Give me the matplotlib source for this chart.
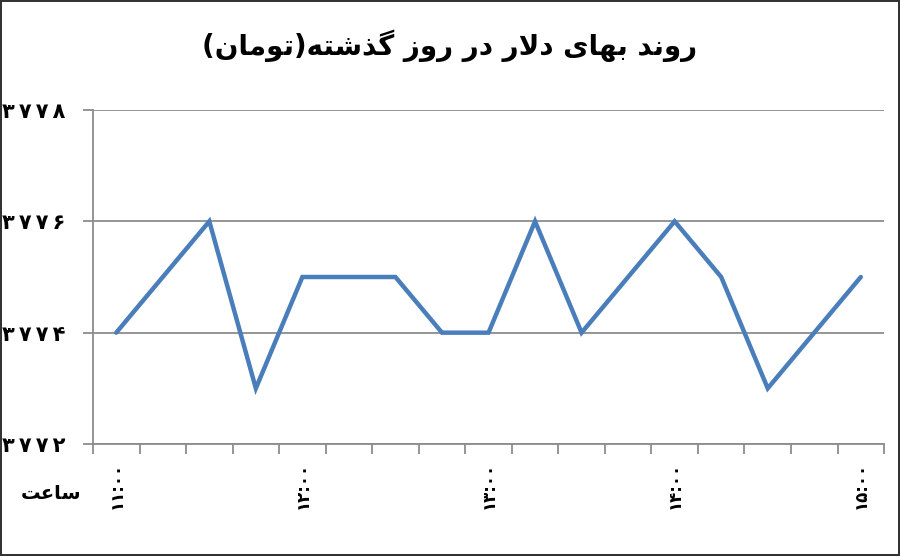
import matplotlib
matplotlib.use('Agg')
from matplotlib import pyplot as plt
from matplotlib.ticker import FixedLocator

# values (toman), one point every 15 minutes from 11:00 to 15:00
PRICES = [3774, 3775, 3776, 3773, 3775, 3775, 3775, 3774, 3774,
          3776, 3774, 3775, 3776, 3775, 3773, 3774, 3775]
HOUR_POS = [0, 4, 8, 12, 16]
HOUR_LABELS = ['11:00', '12:00', '13:00', '14:00', '15:00']
Y_TICKS = [3772, 3774, 3776, 3778]
TITLE = 'روند بهای دلار در روز گذشته(تومان)'
X_NAME = 'ساعت'

LINE_COLOR = '#4a7ebb'
GRID_COLOR = '#8c8c8c'

# (isolated, final, initial, medial); None for initial/medial = joins on the right only
FORMS = {
    'ا': ('\uFE8D', '\uFE8E', None, None),
    'ب': ('\uFE8F', '\uFE90', '\uFE91', '\uFE92'),
    'ت': ('\uFE95', '\uFE96', '\uFE97', '\uFE98'),
    'د': ('\uFEA9', '\uFEAA', None, None),
    'ذ': ('\uFEAB', '\uFEAC', None, None),
    'ر': ('\uFEAD', '\uFEAE', None, None),
    'ز': ('\uFEAF', '\uFEB0', None, None),
    'س': ('\uFEB1', '\uFEB2', '\uFEB3', '\uFEB4'),
    'ش': ('\uFEB5', '\uFEB6', '\uFEB7', '\uFEB8'),
    'ع': ('\uFEC9', '\uFECA', '\uFECB', '\uFECC'),
    'ل': ('\uFEDD', '\uFEDE', '\uFEDF', '\uFEE0'),
    'م': ('\uFEE1', '\uFEE2', '\uFEE3', '\uFEE4'),
    'ن': ('\uFEE5', '\uFEE6', '\uFEE7', '\uFEE8'),
    'ه': ('\uFEE9', '\uFEEA', '\uFEEB', '\uFEEC'),
    'و': ('\uFEED', '\uFEEE', None, None),
    'ی': ('\uFBFC', '\uFBFD', '\uFBFE', '\uFBFF'),
    'گ': ('\uFB92', '\uFB93', '\uFB94', '\uFB95'),
}


def shape(text):
    # poor man's arabic reshaper + bidi for a plain persian line
    out = []
    i = 0
    n = len(text)
    while i < n:
        c = text[i]
        if c not in FORMS:
            out.append(c)
            i += 1
            continue
        prev = text[i - 1] if i > 0 else ''
        join_prev = prev in FORMS and FORMS[prev][2] is not None
        if c == 'ل' and i + 1 < n and text[i + 1] == 'ا':
            out.append('\uFEFC' if join_prev else '\uFEFB')
            i += 2
            continue
        nxt = text[i + 1] if i + 1 < n else ''
        join_next = FORMS[c][2] is not None and nxt in FORMS
        iso, fin, ini, med = FORMS[c]
        if join_prev and join_next:
            out.append(med)
        elif join_prev:
            out.append(fin)
        elif join_next:
            out.append(ini)
        else:
            out.append(iso)
        i += 1
    vis = ''.join(reversed(out))
    return vis.translate(str.maketrans('()', ')('))


def fa_digits(s):
    return s.translate(str.maketrans('0123456789', '۰۱۲۳۴۵۶۷۸۹'))


plt.rcParams['font.family'] = ['DejaVu Sans']

fig = plt.figure(figsize=(9, 5.56), dpi=100)
fig.patch.set_edgecolor('#333333')
fig.patch.set_linewidth(1.5)
ax = fig.add_axes([0.1033, 0.2014, 0.879, 0.6008])

ax.plot(range(len(PRICES)), PRICES, color=LINE_COLOR, lw=3.2,
        solid_joinstyle='miter', solid_capstyle='round', zorder=3)

ax.set_xlim(-0.5, len(PRICES) - 0.5)
ax.set_ylim(Y_TICKS[0], Y_TICKS[-1])

ax.set_yticks(Y_TICKS)
ax.set_yticklabels(['\u2009'.join(fa_digits(str(v))) for v in Y_TICKS],
                   fontsize=15, fontweight='bold')
ax.yaxis.grid(True, color=GRID_COLOR, lw=1.3)
ax.tick_params(axis='y', length=7, width=1.3, color=GRID_COLOR, pad=13)

ax.set_xticks(HOUR_POS)
ax.set_xticklabels([fa_digits(s) for s in HOUR_LABELS], rotation=90,
                   fontsize=12, fontweight='bold')
ax.xaxis.set_minor_locator(FixedLocator([k - 0.5 for k in range(len(PRICES) + 1)]))
ax.tick_params(axis='x', which='major', length=0, pad=13)
ax.tick_params(axis='x', which='minor', length=7, width=1.3, color=GRID_COLOR)

for side in ('top', 'right'):
    ax.spines[side].set_visible(False)
for side in ('left', 'bottom'):
    ax.spines[side].set_color(GRID_COLOR)
    ax.spines[side].set_linewidth(1.3)

fig.text(0.5, 0.918, shape(TITLE), ha='center', va='center',
         fontsize=20, fontweight='bold')
fig.text(0.023, 0.113, shape(X_NAME), ha='left', va='center',
         fontsize=14, fontweight='bold')

fig.savefig('out.png', dpi=100, edgecolor=fig.get_edgecolor())
